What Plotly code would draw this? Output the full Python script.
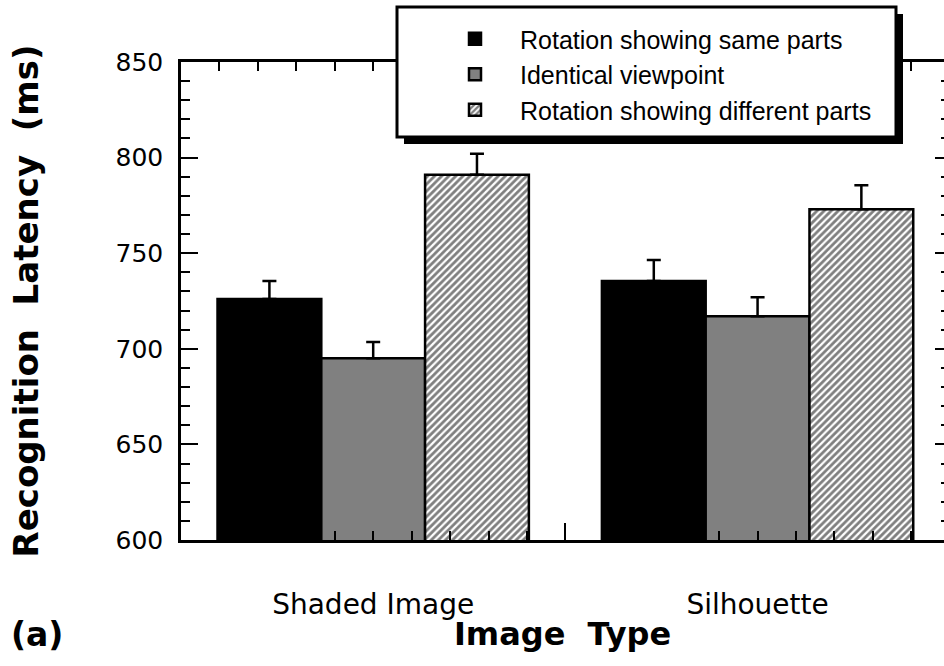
import plotly.graph_objects as go

# ---- data ----
categories = ["Shaded Image", "Silhouette"]
series_names = ["Rotation showing same parts", "Identical viewpoint",
                "Rotation showing different parts"]
same_parts = [726, 735.5]
same_parts_err = [9.5, 11]
identical_view = [695, 717]
identical_view_err = [8.5, 10]
different_parts = [791, 773]
different_parts_err = [11, 12.5]
y_ticks = [600, 650, 700, 750, 800, 850]

FONT = "Liberation Sans, Arial, Helvetica, sans-serif"
WIDE = "DejaVu Sans, Verdana, sans-serif"
x_pos = list(range(len(categories)))

def err(arr):
    return dict(type="data", array=arr, arrayminus=[0] * len(arr), symmetric=False,
                color="black", thickness=2.5, width=7)

fig = go.Figure()
fig.add_trace(go.Bar(x=x_pos, y=same_parts, name=series_names[0],
                     marker=dict(color="black", line=dict(color="black", width=2.5)),
                     error_y=err(same_parts_err)))
fig.add_trace(go.Bar(x=x_pos, y=identical_view, name=series_names[1],
                     marker=dict(color="#808080", line=dict(color="black", width=2.5)),
                     error_y=err(identical_view_err)))
fig.add_trace(go.Bar(x=x_pos, y=different_parts, name=series_names[2],
                     marker=dict(color="white", line=dict(color="black", width=2.5),
                                 pattern=dict(shape="/", fgcolor="black", bgcolor="white",
                                              size=5, solidity=0.55)),
                     error_y=err(different_parts_err)))

xr = [-0.5, 1.485]
yr = [600, 850]

fig.update_layout(
    width=944, height=666,
    margin=dict(l=181, r=0, t=62, b=126, autoexpand=False),
    paper_bgcolor="white", plot_bgcolor="white",
    barmode="group", bargap=0.19, bargroupgap=0,
    font=dict(family=FONT, color="black"),
    showlegend=True,
    legend=dict(x=(430 - 181) / 763, y=(540 - 16) / 478, xanchor="left", yanchor="top",
                bgcolor="rgba(0,0,0,0)", borderwidth=0, itemwidth=80,
                font=dict(family=FONT, size=25, color="black"),
                tracegroupgap=0),
    xaxis=dict(range=xr, tickmode="array", tickvals=[-0.5, 0.5, 1.5],
               ticks="inside", ticklen=17, tickwidth=2, tickcolor="black",
               showticklabels=False, showline=True, linewidth=2.5, linecolor="black",
               mirror="ticks", showgrid=False, zeroline=False, automargin=False,
               minor=dict(tickmode="linear", tick0=0, dtick=0.1, ticks="inside",
                          ticklen=9, tickwidth=2, tickcolor="black", showgrid=False),
               title=dict(text="Image  Type", standoff=81,
                          font=dict(family=WIDE, size=32, color="black", weight="bold"))),
    xaxis2=dict(range=xr, overlaying="x", anchor="y", side="bottom",
                tickmode="array", tickvals=x_pos, ticktext=categories,
                ticks="", showline=False, showgrid=False, zeroline=False,
                automargin=False,
                tickfont=dict(family=WIDE, size=28, color="black"),
                ticklabelstandoff=45),
    yaxis=dict(range=yr, tickmode="array", tickvals=y_ticks,
               ticks="inside", ticklen=17, tickwidth=2, tickcolor="black",
               showline=True, linewidth=2.5, linecolor="black", mirror=False,
               showgrid=False, zeroline=False, automargin=False,
               tickfont=dict(family=WIDE, size=25, color="black"),
               ticklabelstandoff=10,
               minor=dict(tickmode="linear", tick0=600, dtick=10, ticks="inside",
                          ticklen=9, tickwidth=2, tickcolor="black", showgrid=False),
               title=dict(text="Recognition  Latency  (ms)", standoff=67,
                          font=dict(family=WIDE, size=34, color="black", weight="bold"))),
    yaxis2=dict(range=yr, overlaying="y", anchor="x", side="right",
                tickmode="array", tickvals=y_ticks, ticks="inside", ticklen=9,
                tickwidth=2, tickcolor="black", showticklabels=False,
                showline=False, showgrid=False, zeroline=False, automargin=False,
                minor=dict(tickmode="linear", tick0=600, dtick=10, ticks="inside",
                           ticklen=3, tickwidth=2, tickcolor="black", showgrid=False)),
)

# invisible helper trace so the overlay axes are active
fig.add_trace(go.Scatter(x=[None], y=[None], xaxis="x2", yaxis="y2",
                         showlegend=False, hoverinfo="skip"))

# legend frame with drop shadow (paper coordinates)
px = lambda v: (v - 181) / 763
py = lambda v: (540 - v) / 478
fig.add_shape(type="rect", xref="paper", yref="paper", layer="above",
              x0=px(404), x1=px(903), y0=py(144), y1=py(14),
              fillcolor="black", line=dict(width=0))
fig.add_shape(type="rect", xref="paper", yref="paper", layer="above",
              x0=px(397), x1=px(896), y0=py(137), y1=py(7),
              fillcolor="white", line=dict(color="black", width=3))

fig.add_annotation(text="(a)", xref="paper", yref="paper", x=px(9), y=py(634),
                   xanchor="left", yanchor="middle", showarrow=False,
                   font=dict(family=WIDE, size=33, color="black", weight="bold"))

fig.write_html("out.html")
